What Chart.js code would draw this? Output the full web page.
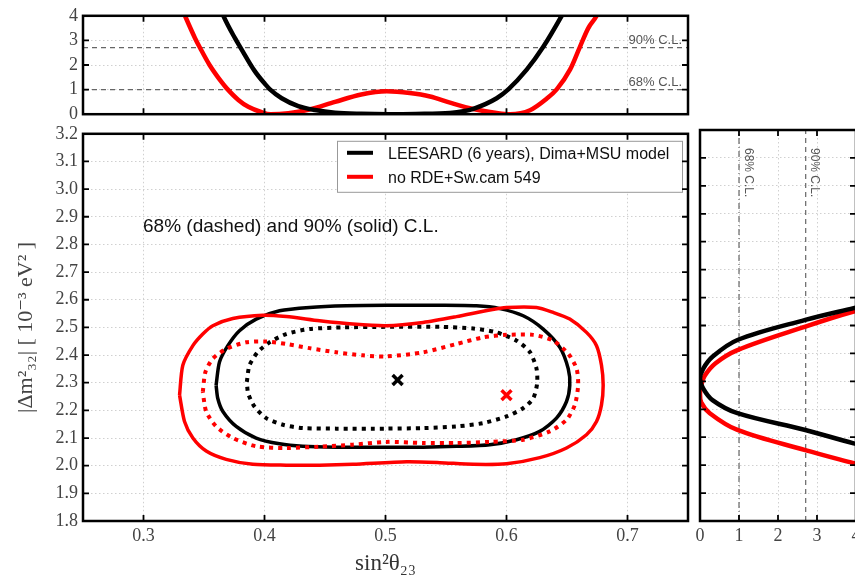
<!DOCTYPE html>
<html>
<head>
<meta charset="utf-8">
<title>Δm²32 vs sin²θ23</title>
<script src="https://cdn.jsdelivr.net/npm/chart.js@4.4.1/dist/chart.umd.min.js"></script>
<style>
  html, body { margin: 0; padding: 0; background: #fff; overflow: hidden; }
  body { position: relative; width: 855px; height: 575px; }
  canvas { position: absolute; }
  #top-chart { left: 0; top: 0; }
  #main-chart { left: 0; top: 118px; }
  #side-chart { left: 690px; top: 118px; }
</style>
</head>
<body>
<canvas id="main-chart" width="700" height="457"></canvas>
<canvas id="side-chart" width="200" height="457"></canvas>
<canvas id="top-chart" width="700" height="130"></canvas>
<script>
// ticks
const xTicks = [0.3, 0.4, 0.5, 0.6, 0.7];
const dmTicks = [1.8, 1.9, 2.0, 2.1, 2.2, 2.3, 2.4, 2.5, 2.6, 2.7, 2.8, 2.9, 3.0, 3.1, 3.2];
const chiTicks = [0, 1, 2, 3, 4];

const clLevels = [1.0, 2.71];
const clNames = ['68% C.L.', '90% C.L.'];

const seriesNames = ['LEESARD (6 years), Dima+MSU model', 'no RDE+Sw.cam 549'];
const seriesColors = ['#000000', '#ff0000'];

// best fit points
const bestX = [0.51, 0.60];
const bestDm = [2.31, 2.255];

// 90% contours (solid)
const black90X = [0.36, 0.3628, 0.3697, 0.3793, 0.3931, 0.4124, 0.4372, 0.4675, 0.5006, 0.5449, 0.5752, 0.5945, 0.6138, 0.6303, 0.6441, 0.651, 0.6523, 0.6496, 0.6413, 0.6275, 0.6083, 0.5862, 0.5587, 0.5311, 0.5006, 0.4592, 0.4317, 0.4124, 0.3931, 0.3766, 0.3656, 0.3614];
const black90Y = [2.291, 2.375, 2.434, 2.488, 2.530, 2.560, 2.572, 2.578, 2.580, 2.580, 2.578, 2.568, 2.542, 2.494, 2.428, 2.351, 2.291, 2.232, 2.172, 2.124, 2.094, 2.076, 2.070, 2.067, 2.067, 2.067, 2.070, 2.079, 2.100, 2.142, 2.196, 2.243];
const red90X = [0.3298, 0.3325, 0.3408, 0.349, 0.3573, 0.3738, 0.3986, 0.418, 0.4455, 0.473, 0.5006, 0.5311, 0.5587, 0.5862, 0.6, 0.6248, 0.6386, 0.6523, 0.6661, 0.6744, 0.6785, 0.6799, 0.6785, 0.6744, 0.6661, 0.6496, 0.6275, 0.6, 0.5725, 0.5449, 0.5174, 0.473, 0.4455, 0.418, 0.3904, 0.3683, 0.3518, 0.3408, 0.3339];
const red90Y = [2.255, 2.363, 2.434, 2.476, 2.506, 2.532, 2.544, 2.539, 2.524, 2.512, 2.506, 2.518, 2.539, 2.563, 2.572, 2.572, 2.554, 2.530, 2.482, 2.434, 2.363, 2.291, 2.220, 2.160, 2.112, 2.064, 2.029, 2.007, 2.005, 2.011, 2.014, 2.005, 2.002, 2.002, 2.005, 2.023, 2.053, 2.100, 2.160];

// 68% contours (dashed)
const black68X = [0.3854, 0.3876, 0.3945, 0.4041, 0.4179, 0.4372, 0.4647, 0.5006, 0.5449, 0.5725, 0.5917, 0.6083, 0.6193, 0.6248, 0.6253, 0.622, 0.6138, 0.6, 0.5807, 0.5587, 0.5311, 0.5006, 0.4592, 0.4317, 0.4152, 0.4014, 0.3917, 0.3865];
const black68Y = [2.303, 2.363, 2.411, 2.446, 2.476, 2.494, 2.500, 2.502, 2.502, 2.496, 2.482, 2.452, 2.411, 2.351, 2.297, 2.243, 2.208, 2.178, 2.154, 2.142, 2.136, 2.134, 2.134, 2.136, 2.148, 2.172, 2.214, 2.261];
const red68X = [0.349, 0.3512, 0.3573, 0.3683, 0.3848, 0.4014, 0.418, 0.4372, 0.4592, 0.4813, 0.5006, 0.5311, 0.5587, 0.5807, 0.6, 0.622, 0.6386, 0.651, 0.6579, 0.6592, 0.6565, 0.6496, 0.6358, 0.6138, 0.5862, 0.5587, 0.5311, 0.5006, 0.473, 0.4455, 0.418, 0.3931, 0.3738, 0.36, 0.3518];
const red68Y = [2.267, 2.339, 2.387, 2.422, 2.446, 2.449, 2.440, 2.425, 2.410, 2.399, 2.395, 2.410, 2.440, 2.464, 2.473, 2.473, 2.452, 2.405, 2.351, 2.291, 2.220, 2.166, 2.124, 2.094, 2.086, 2.082, 2.082, 2.086, 2.076, 2.069, 2.064, 2.070, 2.100, 2.142, 2.196];

// delta chi2 vs sin2 theta (top panel)
const topBlackX = [0.362, 0.366, 0.3756, 0.3798, 0.3921, 0.4004, 0.4045, 0.4142, 0.4279, 0.4417, 0.4583, 0.480, 0.503, 0.525, 0.5533, 0.5643, 0.5726, 0.5919, 0.6015, 0.6167, 0.6304, 0.6456, 0.650];
const topBlackChi = [4.5, 4.0, 3.09, 2.74, 1.74, 1.23, 1.01, 0.65, 0.33, 0.17, 0.06, 0.015, 0, 0.01, 0.05, 0.12, 0.22, 0.65, 1.01, 1.81, 2.74, 4.0, 4.4];
const topRedX = [0.330, 0.3343, 0.3426, 0.3467, 0.3546, 0.3646, 0.3688, 0.3784, 0.3866, 0.3977, 0.405, 0.4197, 0.4362, 0.4583, 0.480, 0.501, 0.520, 0.5368, 0.5533, 0.5726, 0.5919, 0.6029, 0.6194, 0.6332, 0.6415, 0.6525, 0.6607, 0.6676, 0.6745, 0.679];
const topRedChi = [4.5, 4.0, 3.09, 2.7, 2.0, 1.3, 1.05, 0.58, 0.3, 0.08, 0.0, 0.04, 0.18, 0.5, 0.8, 0.93, 0.86, 0.72, 0.47, 0.21, 0.05, 0.0, 0.16, 0.63, 1.01, 1.81, 2.74, 3.5, 4.0, 4.5];

// delta chi2 vs delta m2 (side panel)
const sideBlackDm = [2.577, 2.562, 2.520, 2.448, 2.388, 2.345, 2.31, 2.275, 2.233, 2.186, 2.126, 2.078, 2.065];
const sideBlackChi = [4.4, 3.94, 2.70, 0.96, 0.32, 0.08, 0, 0.08, 0.32, 0.96, 2.70, 3.94, 4.4];
const sideRedDm = [2.562, 2.550, 2.496, 2.412, 2.365, 2.32, 2.285, 2.255, 2.225, 2.186, 2.126, 2.054, 2.007, 1.99];
const sideRedChi = [4.4, 3.94, 2.70, 0.96, 0.40, 0.12, 0.03, 0, 0.03, 0.25, 0.96, 2.70, 3.94, 4.4];

const serif = "'Liberation Serif', 'DejaVu Serif', serif";
const sans = "'Liberation Sans', Arial, sans-serif";
Chart.defaults.font.family = sans;
Chart.defaults.color = '#444';
Chart.defaults.animation = false;

function pts(xs, ys) {
  return xs.map((x, i) => ({ x: x, y: ys[i] }));
}
function closed(xs, ys) {
  const p = pts(xs, ys);
  p.push(p[0]);
  return p;
}
function useTicks(list) {
  return scale => { scale.ticks = list.map(v => ({ value: v })); };
}
const grid = { color: '#d0d0d0', lineWidth: 1, drawTicks: false };
const dotted = { display: false, dash: [1.5, 2.5] };
const tickFont = { family: serif, size: 18 };

// frame + inward ticks
const frame = {
  id: 'frame',
  afterDraw(chart) {
    const { ctx, chartArea: a, scales } = chart;
    ctx.save();
    ctx.strokeStyle = '#000';
    ctx.lineWidth = 1.8;
    ctx.beginPath();
    scales.x.ticks.forEach(t => {
      const p = scales.x.getPixelForValue(t.value);
      ctx.moveTo(p, a.top); ctx.lineTo(p, a.top + 6);
      ctx.moveTo(p, a.bottom); ctx.lineTo(p, a.bottom - 6);
    });
    scales.y.ticks.forEach(t => {
      const p = scales.y.getPixelForValue(t.value);
      ctx.moveTo(a.left, p); ctx.lineTo(a.left + 6, p);
      ctx.moveTo(a.right, p); ctx.lineTo(a.right - 6, p);
    });
    ctx.stroke();
    ctx.lineWidth = 2.5;
    ctx.strokeRect(a.left, a.top, a.width, a.height);
    ctx.restore();
  }
};

// legend box and note in main panel
const legendBox = {
  id: 'legendBox',
  afterDraw(chart) {
    const { ctx, chartArea: a } = chart;
    const w = 345, h = 51;
    const x0 = a.right - 6 - w, y0 = a.top + 7;
    ctx.save();
    ctx.fillStyle = '#fff';
    ctx.fillRect(x0, y0, w, h);
    ctx.strokeStyle = '#999';
    ctx.lineWidth = 1;
    ctx.strokeRect(x0 + 0.5, y0 + 0.5, w, h);
    ctx.font = '16px ' + sans;
    ctx.textBaseline = 'middle';
    seriesNames.forEach((name, i) => {
      const y = y0 + 12 + i * 24;
      ctx.strokeStyle = seriesColors[i];
      ctx.lineWidth = 4;
      ctx.beginPath();
      ctx.moveTo(x0 + 10, y);
      ctx.lineTo(x0 + 36, y);
      ctx.stroke();
      ctx.fillStyle = '#111';
      ctx.fillText(name, x0 + 51, y + 1.5);
    });
    ctx.font = '19px ' + sans;
    ctx.textBaseline = 'alphabetic';
    ctx.fillText('68% (dashed) and 90% (solid) C.L.', a.left + 60, a.top + 98);
    ctx.restore();
  }
};

const topNotes = {
  id: 'topNotes',
  afterDatasetsDraw(chart) {
    const { ctx, chartArea: a, scales: { y } } = chart;
    ctx.save();
    ctx.font = '13px ' + sans;
    ctx.fillStyle = '#555';
    ctx.textAlign = 'right';
    ctx.textBaseline = 'alphabetic';
    clLevels.forEach((lv, i) => ctx.fillText(clNames[i], a.right - 6, y.getPixelForValue(lv) - 4));
    ctx.restore();
  }
};

const sideNotes = {
  id: 'sideNotes',
  afterDatasetsDraw(chart) {
    const { ctx, chartArea: a, scales: { x } } = chart;
    ctx.save();
    ctx.font = '12px ' + sans;
    ctx.fillStyle = '#555';
    ctx.textAlign = 'left';
    ctx.textBaseline = 'middle';
    clLevels.forEach((lv, i) => {
      ctx.save();
      ctx.translate(x.getPixelForValue(lv) + 9, a.top + 18);
      ctx.rotate(Math.PI / 2);
      ctx.fillText(clNames[i], 0, 0);
      ctx.restore();
    });
    ctx.restore();
  }
};

function curve(data, color, width, extra) {
  return Object.assign({
    data: data, showLine: true, borderColor: color, backgroundColor: color,
    borderWidth: width, pointRadius: 0, fill: false
  }, extra || {});
}

// top panel
new Chart(document.getElementById('top-chart'), {
  type: 'scatter',
  data: {
    datasets: [
      curve(pts(topBlackX, topBlackChi), seriesColors[0], 4.5, { cubicInterpolationMode: 'monotone' }),
      curve(pts(topRedX, topRedChi), seriesColors[1], 4.5, { cubicInterpolationMode: 'monotone' }),
      ...clLevels.map(lv => curve([{ x: 0.25, y: lv }, { x: 0.75, y: lv }], '#666', 1.2, { borderDash: [5, 4] }))
    ]
  },
  options: {
    responsive: false,
    events: [],
    layout: { padding: { top: 13, right: 12, bottom: 13, left: 0 } },
    plugins: { legend: { display: false }, tooltip: { enabled: false } },
    scales: {
      x: {
        type: 'linear', min: 0.25, max: 0.75,
        afterBuildTicks: useTicks(xTicks),
        ticks: { display: false },
        grid: grid, border: dotted
      },
      y: {
        type: 'linear', min: 0, max: 4,
        afterBuildTicks: useTicks(chiTicks),
        afterFit: s => { s.width = 83; },
        ticks: { font: tickFont, color: '#444', padding: 5, callback: v => String(v) },
        grid: grid, border: dotted
      }
    }
  },
  plugins: [topNotes, frame]
});

// main panel
new Chart(document.getElementById('main-chart'), {
  type: 'scatter',
  data: {
    datasets: [
      { data: [{ x: bestX[0], y: bestDm[0] }], pointStyle: 'crossRot', pointRadius: 7, borderColor: seriesColors[0], pointBorderWidth: 3.5 },
      { data: [{ x: bestX[1], y: bestDm[1] }], pointStyle: 'crossRot', pointRadius: 7, borderColor: seriesColors[1], pointBorderWidth: 3.5 },
      curve(closed(red68X, red68Y), seriesColors[1], 4, { borderDash: [4, 5], tension: 0.25 }),
      curve(closed(red90X, red90Y), seriesColors[1], 3.5, { tension: 0.25 }),
      curve(closed(black68X, black68Y), seriesColors[0], 4, { borderDash: [4, 5], tension: 0.25 }),
      curve(closed(black90X, black90Y), seriesColors[0], 3.5, { tension: 0.25 })
    ]
  },
  options: {
    responsive: false,
    events: [],
    layout: { padding: { top: 12, right: 12, bottom: 0, left: 0 } },
    plugins: { legend: { display: false }, tooltip: { enabled: false } },
    scales: {
      x: {
        type: 'linear', min: 0.25, max: 0.75,
        afterBuildTicks: useTicks(xTicks),
        afterFit: s => { s.height = 54; },
        ticks: { font: tickFont, color: '#444', padding: 4, callback: v => v.toFixed(1) },
        title: { display: true, text: 'sin²θ₂₃', font: { family: serif, size: 23, lineHeight: 1 }, color: '#333', padding: { top: 0, bottom: 0 } },
        grid: grid, border: dotted
      },
      y: {
        type: 'linear', min: 1.8, max: 3.2,
        afterBuildTicks: useTicks(dmTicks),
        afterFit: s => { s.width = 83; },
        ticks: { font: tickFont, color: '#444', padding: 5, callback: v => v.toFixed(1) },
        title: { display: true, text: '|Δm²₃₂| [ 10⁻³ eV² ]', font: { family: serif, size: 22 }, color: '#444', padding: { top: 13, bottom: 0 } },
        grid: grid, border: dotted
      }
    }
  },
  plugins: [legendBox, frame]
});

// side panel
new Chart(document.getElementById('side-chart'), {
  type: 'scatter',
  data: {
    datasets: [
      curve(pts(sideBlackChi, sideBlackDm), seriesColors[0], 4.5, { tension: 0.35 }),
      curve(pts(sideRedChi, sideRedDm), seriesColors[1], 4.5, { tension: 0.35 }),
      curve([{ x: clLevels[0], y: 1.8 }, { x: clLevels[0], y: 3.2 }], '#666', 1.2, { borderDash: [6, 3, 1, 3] }),
      curve([{ x: clLevels[1], y: 1.8 }, { x: clLevels[1], y: 3.2 }], '#666', 1.2, { borderDash: [5, 4] })
    ]
  },
  options: {
    responsive: false,
    events: [],
    layout: { padding: { top: 12, right: 34, bottom: 0, left: 10 } },
    plugins: { legend: { display: false }, tooltip: { enabled: false } },
    scales: {
      x: {
        type: 'linear', min: 0, max: 4,
        afterBuildTicks: useTicks(chiTicks),
        afterFit: s => { s.height = 54; },
        ticks: { font: tickFont, color: '#444', padding: 4, callback: v => String(v) },
        grid: grid, border: dotted
      },
      y: {
        type: 'linear', min: 1.8, max: 3.2,
        afterBuildTicks: useTicks(dmTicks),
        afterFit: s => { s.width = 0; },
        ticks: { display: false },
        grid: grid, border: dotted
      }
    }
  },
  plugins: [sideNotes, frame]
});
</script>
</body>
</html>
